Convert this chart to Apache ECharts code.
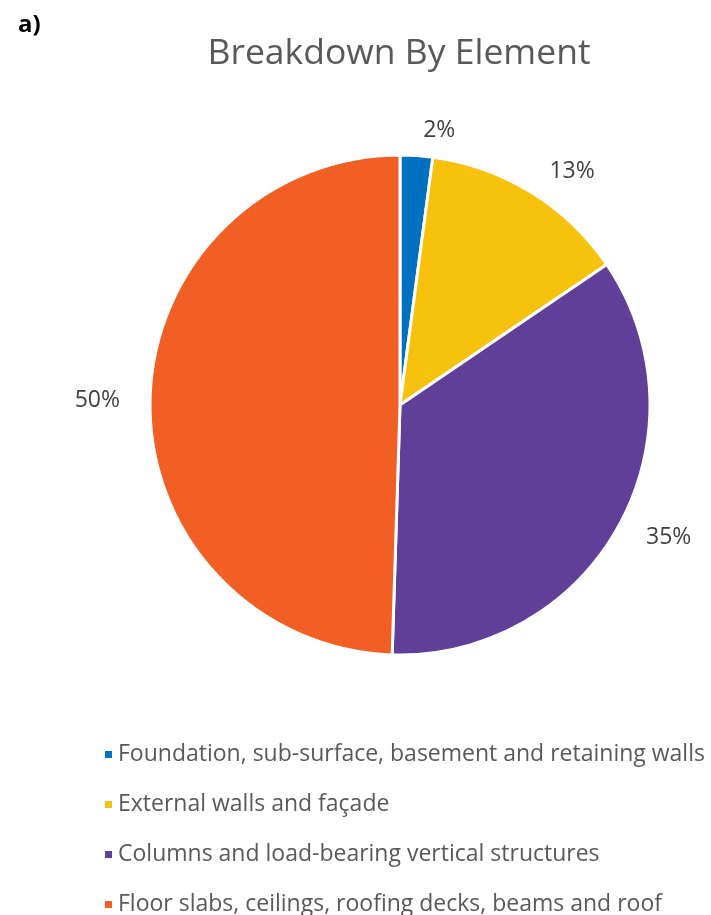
<!DOCTYPE html>
<html>
<head>
<meta charset="utf-8">
<script src="https://cdn.jsdelivr.net/npm/echarts@6/dist/echarts.min.js"></script>
<style>
  html, body { margin: 0; padding: 0; background: #fff; }
  #chart { width: 711px; height: 915px; }
</style>
</head>
<body>
<div id="chart"></div>
<script>
// slice names and shares (percent), read clockwise from 12 o'clock
const elements = [
  'Foundation, sub-surface, basement and retaining walls',
  'External walls and façade',
  'Columns and load-bearing vertical structures',
  'Floor slabs, ceilings, roofing decks, beams and roof'
];
const shares = [2.1, 13.4, 35.0, 49.5];
const colors = ['#0070C0', '#F7C20E', '#5F3F98', '#F25F24'];

const chart = echarts.init(document.getElementById('chart'));
const font = '"Open Sans", Lato, sans-serif';

chart.setOption({
  animation: false,
  color: colors,
  title: [{
    text: 'Breakdown By Element',
    left: 394,
    textAlign: 'center',
    top: 31,
    textStyle: { fontFamily: font, fontSize: 35.5, fontWeight: 'normal', color: '#595959' }
  }, {
    text: 'a)',
    left: 13,
    top: 8,
    textStyle: { fontFamily: font, fontSize: 24, fontWeight: 'bold', color: '#000' }
  }],
  legend: {
    orient: 'vertical',
    left: 103,
    top: 743,
    height: 300,
    padding: 0,
    icon: 'rect',
    itemWidth: 9,
    itemHeight: 9,
    itemGap: 27,
    textStyle: { fontFamily: font, fontSize: 23, color: '#595959', lineHeight: 20 },
    data: elements
  },
  series: [{
    type: 'pie',
    center: [400, 405],
    radius: 250,
    startAngle: 90,
    clockwise: true,
    itemStyle: { borderColor: '#fff', borderWidth: 3 },
    label: {
      position: 'outside',
      fontFamily: font,
      fontSize: 23,
      color: '#404040',
      formatter: p => Math.round(p.percent) + '%'
    },
    labelLine: { show: false, length: 25, length2: 0 },
    data: elements.map((name, i) => ({ name, value: shares[i] }))
  }]
});
</script>
</body>
</html>
